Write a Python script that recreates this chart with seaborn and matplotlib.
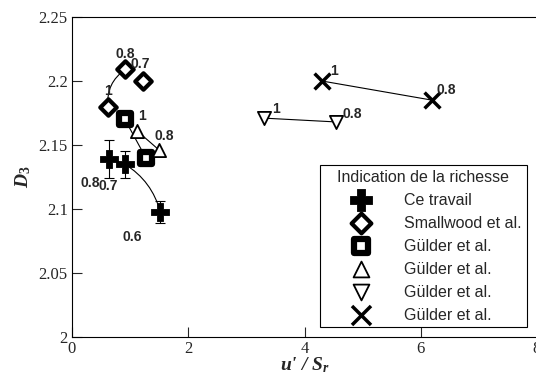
import numpy as np
import pandas as pd
import matplotlib
matplotlib.use("Agg")
import matplotlib.pyplot as plt
import seaborn as sns

# data (x = u'/S_r, y = D3, richness label)
ce_x = [0.64, 0.91, 1.52]
ce_y = [2.139, 2.135, 2.0975]
ce_err = [0.015, 0.0105, 0.0087]
ce_lab = ["0.8", "0.7", "0.6"]

sw_x = [0.62, 0.92, 1.225]
sw_y = [2.180, 2.209, 2.200]
sw_lab = ["1", "0.8", "0.7"]

gsq_x = [0.91, 1.27]
gsq_y = [2.170, 2.140]
gsq_lab = ["1", ""]

gtu_x = [1.12, 1.50]
gtu_y = [2.161, 2.146]
gtu_lab = ["", "0.8"]

gtd_x = [3.3, 4.55]
gtd_y = [2.171, 2.168]
gtd_lab = ["1", "0.8"]

gx_x = [4.3, 6.2]
gx_y = [2.200, 2.185]
gx_lab = ["1", "0.8"]

sns.set_style("ticks")
plt.rcParams['mathtext.fontset'] = 'custom'
plt.rcParams['mathtext.it'] = 'Liberation Serif:italic:bold'
plt.rcParams['mathtext.rm'] = 'Liberation Serif:bold'
plt.rcParams['mathtext.bf'] = 'Liberation Serif:bold'

fig = plt.figure(figsize=(5.36, 3.8), dpi=100)
ax = fig.add_axes([72 / 536, 1 - 337 / 380, 465 / 536, 320 / 380])

# connecting lines
def link(x, y, rad=0.0):
    ax.annotate("", xy=(x[1], y[1]), xytext=(x[0], y[0]),
                arrowprops=dict(arrowstyle='-', color='black', lw=0.8,
                                shrinkA=0, shrinkB=0,
                                connectionstyle=f"arc3,rad={rad}"))

link(ce_x[1:], ce_y[1:], rad=-0.2)
link(sw_x[:2], sw_y[:2], rad=-0.3)
link(gsq_x, gsq_y)
link(gtu_x, gtu_y)
link(gtd_x, gtd_y)
link(gx_x, gx_y)

ax.errorbar(ce_x, ce_y, yerr=ce_err, fmt='none', ecolor='black',
            elinewidth=0.8, capsize=3.6, capthick=0.8, zorder=2)

sns.scatterplot(x=ce_x, y=ce_y, marker='P', s=160, color='black',
                edgecolor='black', linewidth=0.6, label='Ce travail', ax=ax, zorder=3)
sns.scatterplot(x=sw_x, y=sw_y, marker='D', s=70, color='white',
                edgecolor='black', linewidth=3, label='Smallwood et al.', ax=ax, zorder=3)
sns.scatterplot(x=gsq_x, y=gsq_y, marker='s', s=80, color='white',
                edgecolor='black', linewidth=4.5, label='Gülder et al.', ax=ax, zorder=3)
sns.scatterplot(x=gtu_x, y=gtu_y, marker='^', s=90, color='white',
                edgecolor='black', linewidth=1.3, label='Gülder et al.', ax=ax, zorder=3)
sns.scatterplot(x=gtd_x, y=gtd_y, marker='v', s=90, color='white',
                edgecolor='black', linewidth=1.3, label='Gülder et al.', ax=ax, zorder=3)
sns.scatterplot(x=gx_x, y=gx_y, marker='x', s=130, color='black',
                linewidth=2.5, label='Gülder et al.', ax=ax, zorder=3)

# richness labels
def tag(x, y, labs, offs):
    for xi, yi, t, o in zip(x, y, labs, offs):
        if t:
            ax.annotate(t, xy=(xi, yi), xytext=o, textcoords='offset points',
                        ha='center', va='center', fontsize=10, fontweight='bold',
                        family='Liberation Sans')

tag(ce_x, ce_y, ce_lab, [(-14, -17), (-12, -16), (-20, -18)])
tag(sw_x, sw_y, sw_lab, [(0, 11), (0, 11), (-2, 12)])
tag(gsq_x, gsq_y, gsq_lab, [(12, 2.5), (0, 0)])
tag(gtu_x, gtu_y, gtu_lab, [(0, 0), (4, 10)])
tag(gtd_x, gtd_y, gtd_lab, [(9, 6.5), (11.5, 6)])
tag(gx_x, gx_y, gx_lab, [(9, 7), (10, 7)])

ax.set_xlim(0, 8)
ax.set_ylim(2.0, 2.25)
ax.set_xticks([0, 2, 4, 6, 8])
ax.set_yticks([2.0, 2.05, 2.1, 2.15, 2.2, 2.25])
ax.set_xticklabels(['0', '2', '4', '6', '8'])
ax.set_yticklabels(['2', '2.05', '2.1', '2.15', '2.2', '2.25'])
ax.tick_params(direction='in', length=7.5, width=0.8, labelsize=12, pad=3,
               top=False, right=False)
for lb in ax.get_xticklabels() + ax.get_yticklabels():
    lb.set_family('Liberation Serif')
for sp in ax.spines.values():
    sp.set_visible(True)
    sp.set_linewidth(0.8)
    sp.set_color('black')

ax.set_xlabel(r"$u$' / $S_r$", fontsize=14, labelpad=-1,
              family='Liberation Serif', fontweight='bold', style='italic')
ax.set_ylabel(r"$D_3$", fontsize=14, labelpad=4)

leg = ax.legend(title='Indication de la richesse', loc='lower right',
                bbox_to_anchor=(0.978, 0.03), frameon=True, fancybox=False,
                edgecolor='black', framealpha=1, markerscale=1.2,
                prop={'family': 'Liberation Sans', 'size': 11.5},
                title_fontproperties={'family': 'Liberation Sans', 'size': 11.5},
                handlelength=4.55, handletextpad=0.45, borderpad=0.3,
                labelspacing=0.5, borderaxespad=0)
leg.get_frame().set_linewidth(0.8)

plt.savefig("out.png", dpi=100)
